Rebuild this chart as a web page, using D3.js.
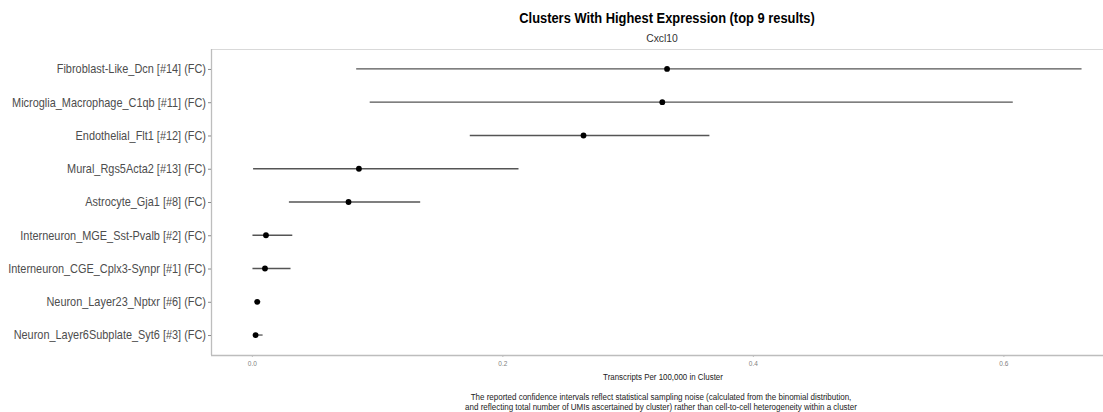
<!DOCTYPE html>
<html>
<head>
<meta charset="utf-8">
<script src="https://cdn.jsdelivr.net/npm/d3@7"></script>
<style>
  html, body { margin: 0; padding: 0; background: #fff; }
  svg { display: block; font-family: "Liberation Sans", Arial, Helvetica, sans-serif; }
</style>
</head>
<body>
<svg id="chart" width="1103" height="412"></svg>
<script>
// Clusters, listed top to bottom
const clusters = [
  "Fibroblast-Like_Dcn [#14] (FC)",
  "Microglia_Macrophage_C1qb [#11] (FC)",
  "Endothelial_Flt1 [#12] (FC)",
  "Mural_Rgs5Acta2 [#13] (FC)",
  "Astrocyte_Gja1 [#8] (FC)",
  "Interneuron_MGE_Sst-Pvalb [#2] (FC)",
  "Interneuron_CGE_Cplx3-Synpr [#1] (FC)",
  "Neuron_Layer23_Nptxr [#6] (FC)",
  "Neuron_Layer6Subplate_Syt6 [#3] (FC)"
];
// Transcripts per 100,000 (point estimate) and confidence bounds
const estimate = [0.3315, 0.3277, 0.2648, 0.0855, 0.0772, 0.0113, 0.0105, 0.0043, 0.0030];
const lower    = [0.0833, 0.0941, 0.1740, 0.0010, 0.0296, 0.0005, 0.0005, 0.0020, 0.0008];
const upper    = [0.6624, 0.6075, 0.3653, 0.2129, 0.1344, 0.0323, 0.0309, 0.0068, 0.0086];
const xTicks   = [0.0, 0.2, 0.4, 0.6];

const title    = "Clusters With Highest Expression (top 9 results)";
const subtitle = "Cxcl10";
const xTitle   = "Transcripts Per 100,000 in Cluster";
const caption  = [
  "The reported confidence intervals reflect statistical sampling noise (calculated from the binomial distribution,",
  "and reflecting total number of UMIs ascertained by cluster) rather than cell-to-cell heterogeneity within a cluster"
];

const rows = clusters.map((c, i) => ({ cluster: c, est: estimate[i], lo: lower[i], hi: upper[i] }));

const svg = d3.select("#chart");
const panel = { left: 211, top: 49, bottom: 355, right: 1123 };

// continuous x with 5% expansion on each side
const xmin = d3.min(lower), xmax = d3.max(upper);
const pad = (xmax - xmin) * 0.05;
const x = d3.scaleLinear().domain([xmin - pad, xmax + pad]).range([panel.left, panel.right]);

// discrete y with 0.6 band expansion
const n = clusters.length;
const step = (panel.bottom - panel.top) / (n - 1 + 1.2);
const y = d3.scalePoint().domain(clusters).range([panel.top + 0.6 * step, panel.bottom - 0.6 * step]);

// panel top border
svg.append("line")
  .attr("x1", panel.left).attr("x2", 1103)
  .attr("y1", panel.top + 0.5).attr("y2", panel.top + 0.5)
  .attr("stroke", "#d9d9d9").attr("stroke-width", 1);

// y axis
const yAxis = svg.append("g")
  .attr("transform", `translate(${panel.left},0)`)
  .call(d3.axisLeft(y).tickSize(3).tickPadding(2));
yAxis.select(".domain").attr("stroke", "#bdbdbd").attr("stroke-width", 1.3)
  .attr("d", `M0.5,${panel.top}V${panel.bottom}`);
yAxis.selectAll(".tick line").attr("stroke", "#8a8a8a");
yAxis.selectAll(".tick text")
  .attr("fill", "#4d4d4d").attr("font-size", 12)
  .attr("x", -5.5).attr("transform", "scale(0.91,1)");

// x axis
const xAxis = svg.append("g")
  .attr("transform", `translate(0,${panel.bottom})`)
  .call(d3.axisBottom(x).tickValues(xTicks).tickFormat(d3.format(".1f")).tickSize(2).tickPadding(4));
xAxis.select(".domain").attr("stroke", "#bdbdbd").attr("stroke-width", 1.3)
  .attr("d", `M${panel.left},0.5H1103`);
xAxis.selectAll(".tick line").attr("stroke", "#bdbdbd");
xAxis.selectAll(".tick text").attr("fill", "#7f7f7f").attr("font-size", 6.5);

// confidence interval segments
svg.append("g").selectAll("line")
  .data(rows).join("line")
  .attr("x1", d => x(d.lo)).attr("x2", d => x(d.hi))
  .attr("y1", d => y(d.cluster)).attr("y2", d => y(d.cluster))
  .attr("stroke", "#555").attr("stroke-width", 1.3);

// point estimates
svg.append("g").selectAll("circle")
  .data(rows).join("circle")
  .attr("cx", d => x(d.est)).attr("cy", d => y(d.cluster))
  .attr("r", 2.9).attr("fill", "#000");

const cx = (panel.left + panel.right) / 2;

// condensed text helper: horizontal squeeze around the anchor point
function squeezed(px, py, sx) {
  return svg.append("text")
    .attr("transform", `translate(${px},${py}) scale(${sx},1)`)
    .attr("text-anchor", "middle");
}

squeezed(cx, 23, 0.86).attr("font-size", 15).attr("font-weight", "bold").attr("fill", "#000").text(title);
squeezed(cx - 5, 42, 0.9).attr("font-size", 11.5).attr("fill", "#333").text(subtitle);
squeezed(cx - 4, 380, 0.88).attr("font-size", 9).attr("fill", "#222").text(xTitle);
caption.forEach((line, i) => {
  squeezed(cx - 6, 400 + i * 10, 0.89).attr("font-size", 9).attr("fill", "#222").text(line);
});
</script>
</body>
</html>
